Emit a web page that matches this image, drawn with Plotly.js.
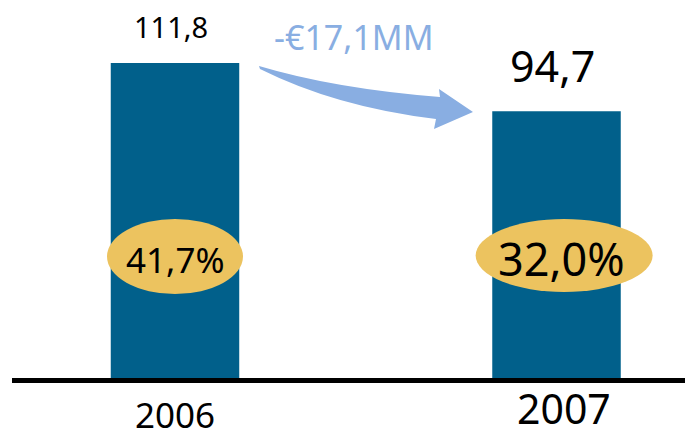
<!DOCTYPE html>
<html>
<head>
<meta charset="utf-8">
<script src="https://cdn.plot.ly/plotly-3.0.1.min.js"></script>
<style>html,body{margin:0;padding:0;background:#fff;}#chart{width:685px;height:437px;}</style>
</head>
<body>
<div id="chart"></div>
<script>
// ---- data ----
const years = ['2006', '2007'];
const values = [111.8, 94.7];
const valueLabels = ['111,8', '94,7'];
const shareLabels = ['41,7%', '32,0%'];
const changeLabel = '-€17,1MM';

// ---- layout helpers (pixel -> paper) ----
const W = 685, H = 437, MB = 54;
const PH = H - MB;              // plot height in px
const px = x => x / W;
const py = y => (PH - y) / PH;
const pt = (x, y) => px(x).toFixed(5) + ',' + py(y).toFixed(5);

const barColor = '#01608B';
const ovalColor = '#ECC35F';
const blueLight = '#89AEE2';
const font = 'Noto Sans, Open Sans, sans-serif';

const xs = years.map((_, i) => i);

const trace = {
  type: 'bar',
  x: xs,
  y: values,
  width: 0.3368,
  marker: {color: barColor, line: {width: 0}},
  hoverinfo: 'skip'
};

const valueSizes = [29, 43];
const valueY = [26, 66];
const yearSizes = [35, 41];
const yearXoff = [0, 0.02];
const shareSizes = [35, 45];
const shareY = [259, 258];
const ovals = [{w: 136, h: 75, cy: 256.5}, {w: 177, h: 73, cy: 255.5}];
const xScale = 381.5; // px per category unit

const annotations = [];
const shapes = [];

years.forEach((yr, i) => {
  annotations.push({
    x: xs[i] - 0.01, xref: 'x', y: py(valueY[i]), yref: 'paper',
    text: valueLabels[i], showarrow: false, xanchor: 'center', yanchor: 'middle',
    font: {family: font, size: valueSizes[i], color: '#000'}
  });
  annotations.push(i === 0 ? {
    x: xs[i] + yearXoff[i], xref: 'x', y: py(414), yref: 'paper',
    text: yr, showarrow: false, xanchor: 'center', yanchor: 'middle',
    font: {family: font, size: yearSizes[i], color: '#000'}
  } : {
    x: xs[i] + yearXoff[i], xref: 'x', y: py(436.5), yref: 'paper',
    text: yr, showarrow: false, xanchor: 'center', yanchor: 'bottom', borderpad: 0,
    font: {family: font, size: yearSizes[i], color: '#000'}
  });
  annotations.push({
    x: xs[i] + (i === 0 ? 0 : 0.013), xref: 'x', y: py(shareY[i]), yref: 'paper',
    text: shareLabels[i], showarrow: false, xanchor: 'center', yanchor: 'middle',
    font: {family: font, size: shareSizes[i], color: '#000'}
  });
  const o = ovals[i];
  const cxu = xs[i] + (i === 0 ? 0 : 0.02);
  shapes.push({
    type: 'circle', xref: 'x', yref: 'paper',
    x0: cxu - o.w / 2 / xScale, x1: cxu + o.w / 2 / xScale,
    y0: py(o.cy + o.h / 2), y1: py(o.cy - o.h / 2),
    fillcolor: ovalColor, line: {width: 0}, layer: 'above'
  });
});

annotations.push({
  x: px(353.5), xref: 'paper', y: py(37.5), yref: 'paper',
  text: changeLabel, showarrow: false, xanchor: 'center', yanchor: 'middle',
  font: {family: font, size: 34, color: blueLight}
});

// curved arrow
const arrowPath = 'M' + pt(259, 66) +
  ' Q' + pt(334, 88.5) + ' ' + pt(440, 97) +
  ' L' + pt(439, 89) +
  ' L' + pt(473, 112) +
  ' L' + pt(434, 129) +
  ' L' + pt(436, 119) +
  ' Q' + pt(336, 107) + ' ' + pt(260, 69) + ' Z';
shapes.push({
  type: 'path', xref: 'paper', yref: 'paper', path: arrowPath,
  fillcolor: blueLight, line: {width: 0}, layer: 'above'
});

// baseline
shapes.push({
  type: 'line', xref: 'paper', yref: 'paper',
  x0: px(12), x1: 1, y0: py(380.5), y1: py(380.5),
  line: {color: '#000', width: 5}, layer: 'above'
});

const layout = {
  width: W, height: H,
  margin: {l: 0, r: 0, t: 0, b: MB, pad: 0},
  paper_bgcolor: '#fff', plot_bgcolor: '#fff',
  showlegend: false,
  xaxis: {range: [-0.4587, 1.3368], visible: false, fixedrange: true},
  yaxis: {range: [-5 / 2.8175, 378 / 2.8175], visible: false, fixedrange: true},
  annotations: annotations,
  shapes: shapes
};

Plotly.newPlot('chart', [trace], layout, {displayModeBar: false, staticPlot: true});
</script>
</body>
</html>
